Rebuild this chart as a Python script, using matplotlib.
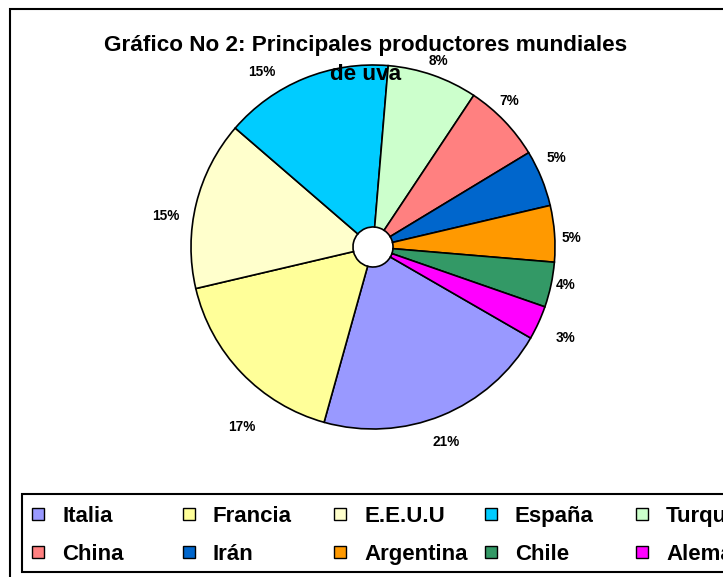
import matplotlib
matplotlib.use("Agg")
import matplotlib.pyplot as plt
from matplotlib.patches import Rectangle

plt.rcParams['font.family'] = ['Liberation Sans', 'DejaVu Sans']
plt.rcParams['font.weight'] = 'bold'

countries = ["Italia", "Francia", "E.E.U.U", "España", "Turquía",
             "China", "Irán", "Argentina", "Chile", "Alemania"]
shares = [21, 17, 15, 15, 8, 7, 5, 5, 4, 3]
colors = ["#9999FF", "#FFFF99", "#FFFFCC", "#00CCFF", "#CCFFCC",
          "#FF8080", "#0066CC", "#FF9900", "#339966", "#FF00FF"]
title_lines = ["Gráfico No 2: Principales productores mundiales", "de uva"]

# label placement (in pie-radius units, relative to the pie centre)
label_offsets = [(0.40, -1.07), (-0.72, -0.99), (-1.14, 0.17), (-0.61, 0.96),
                 (0.36, 1.02), (0.75, 0.80), (1.01, 0.49), (1.09, 0.05),
                 (1.06, -0.21), (1.06, -0.50)]

W, H = 723, 577
fig = plt.figure(figsize=(W / 100, H / 100), dpi=100)

# outer chart border
fig.add_artist(Rectangle((10 / W, -0.1), 1.2, 1 - 9 / H + 0.1,
                         transform=fig.transFigure, fill=False,
                         edgecolor='black', linewidth=1.5))

# pie axes
cx, cy, r = 373, 247, 182
ax = fig.add_axes([(cx - r) / W, 1 - (cy + r) / H, 2 * r / W, 2 * r / H])
wedges, texts, autotexts = ax.pie(
    shares, colors=colors, startangle=-30, counterclock=False,
    autopct='%.0f%%', pctdistance=1.13,
    wedgeprops=dict(width=0.89, edgecolor='black', linewidth=1.2),
    textprops=dict(fontsize=9.8, fontweight='bold'))
ax.set_xlim(-1, 1)
ax.set_ylim(-1, 1)
for t, (dx, dy) in zip(autotexts, label_offsets):
    t.set_position((dx, dy))
    t.set_clip_on(False)

# title
for line, ypx in zip(title_lines, [45, 75]):
    fig.text(366 / W, 1 - ypx / H, line, ha='center', va='center',
             fontsize=16.2, fontweight='bold', zorder=10)

# legend box
fig.add_artist(Rectangle((22 / W, 1 - 572 / H), 1.2, (572 - 494) / H,
                         transform=fig.transFigure, fill=True,
                         facecolor='white', edgecolor='black',
                         linewidth=1.5))
ncol = 5
for i, (name, col) in enumerate(zip(countries, colors)):
    row, c = divmod(i, ncol)
    x0 = 32 + c * 151
    yc = 514 + row * 38
    fig.add_artist(Rectangle((x0 / W, 1 - (yc + 6) / H), 12 / W, 12 / H,
                             transform=fig.transFigure, facecolor=col,
                             edgecolor='black', linewidth=1.0))
    fig.text((x0 + 30) / W, 1 - yc / H, name, ha='left', va='center_baseline',
             fontsize=16, fontweight='bold')

fig.savefig("out.png", dpi=100)
